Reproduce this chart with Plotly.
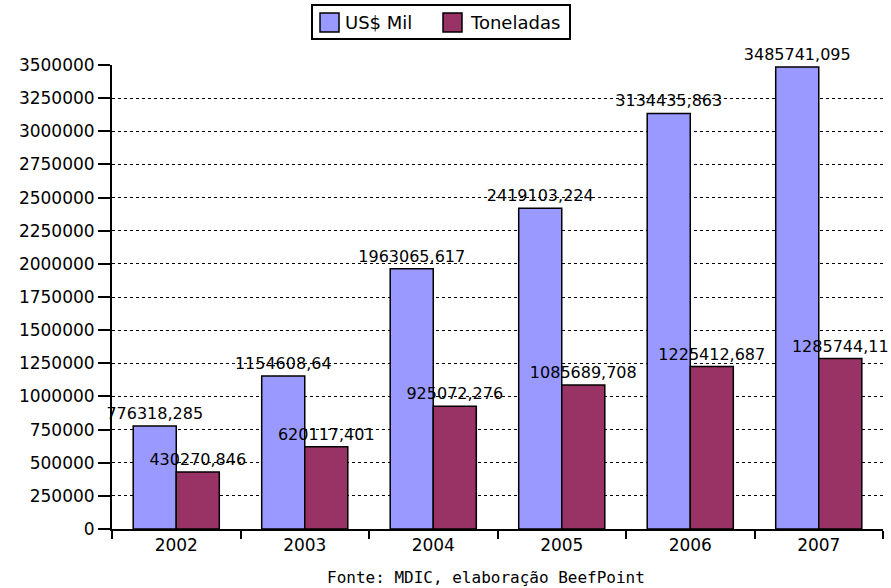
import plotly.graph_objects as go

years = ["2002", "2003", "2004", "2005", "2006", "2007"]
usd_mil = [776318.285, 1154608.64, 1963065.617, 2419103.224, 3134435.863, 3485741.095]
toneladas = [430270.846, 620117.401, 925072.276, 1085689.708, 1225412.687, 1285744.11]
y_ticks = [0, 250000, 500000, 750000, 1000000, 1250000, 1500000, 1750000,
           2000000, 2250000, 2500000, 2750000, 3000000, 3250000, 3500000]
series_names = ["US$ Mil", "Toneladas"]
series_colors = ["#9999FF", "#993366"]
source_text = "Fonte: MDIC, elaboração BeefPoint"

W, H = 891, 588
L, R, T, B = 112, 8, 65, 59
PW, PH = W - L - R, H - T - B


def fmt(v):
    return f"{v}".replace(".", ",")


def px(x):
    return (x - L) / PW


def py(y):
    return (H - B - y) / PH


fig = go.Figure()
for name, vals, col in zip(series_names, [usd_mil, toneladas], series_colors):
    fig.add_trace(go.Bar(
        name=name, x=years, y=vals,
        text=[fmt(v) for v in vals], textposition="outside",
        constraintext="none", cliponaxis=False,
        textfont=dict(family="DejaVu Sans", size=16, color="black"),
        marker=dict(color=col, line=dict(color="black", width=1.5)),
        showlegend=False,
    ))

# custom legend (box, swatches, labels)
shapes = [dict(type="rect", xref="paper", yref="paper",
               x0=px(312), x1=px(570), y0=py(39), y1=py(5),
               line=dict(color="black", width=2), fillcolor="white", layer="above")]
annotations = []
sw_x = [320, 443]
tx_x = [343, 468]
for sx, tx, name, col in zip(sw_x, tx_x, series_names, series_colors):
    shapes.append(dict(type="rect", xref="paper", yref="paper",
                       x0=px(sx), x1=px(sx + 19), y0=py(32), y1=py(13),
                       line=dict(color="black", width=1.5), fillcolor=col, layer="above"))
    annotations.append(dict(text=name, xref="paper", yref="paper",
                            x=px(tx), y=py(22), xanchor="left", yanchor="middle",
                            showarrow=False,
                            font=dict(family="DejaVu Sans", size=18, color="black")))

annotations.append(dict(
    text=source_text, xref="paper", yref="paper",
    x=px(486), y=py(577), xanchor="center", yanchor="middle", showarrow=False,
    font=dict(family="DejaVu Sans Mono", size=16, color="black"),
))

fig.update_layout(
    width=W, height=H,
    margin=dict(l=L, r=R, t=T, b=B, autoexpand=False),
    paper_bgcolor="white", plot_bgcolor="white",
    barmode="group", bargap=0.33, bargroupgap=0,
    font=dict(family="DejaVu Sans", size=16, color="black"),
    showlegend=False,
    shapes=shapes,
    annotations=annotations,
)
fig.update_yaxes(
    range=[0, 3500000], tickvals=y_ticks, ticktext=[str(t) for t in y_ticks],
    showline=True, linecolor="black", linewidth=2,
    ticks="outside", ticklen=12, tickwidth=2, tickcolor="black",
    showgrid=True, gridcolor="black", gridwidth=1, griddash="3px,3px",
    zeroline=False, automargin=False,
    tickfont=dict(family="DejaVu Sans", size=17, color="black"),
)
fig.update_xaxes(
    showline=True, linecolor="black", linewidth=2,
    ticks="outside", ticklen=8, tickwidth=2, tickcolor="black",
    tickson="boundaries", showgrid=False, automargin=False,
    tickfont=dict(family="DejaVu Sans", size=17, color="black"),
)

fig.write_html(
    "out.html",
    config={"displayModeBar": False},
    post_script="document.body.style.margin='0px';document.body.style.overflow='hidden';",
)
